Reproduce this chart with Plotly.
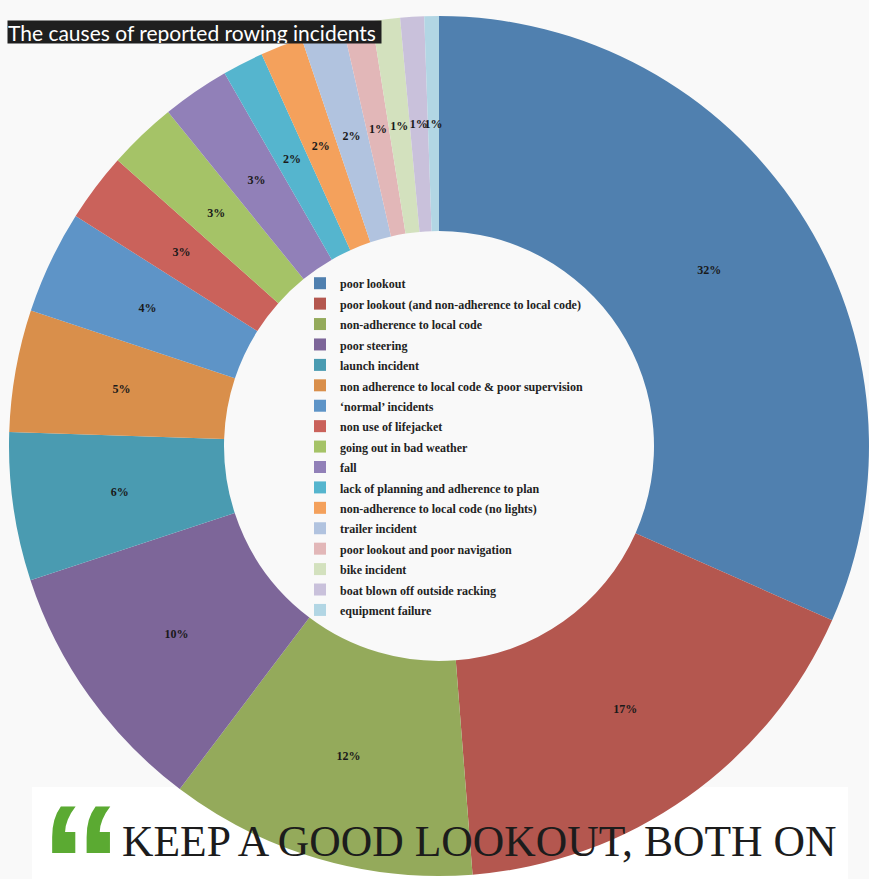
import math
import plotly.graph_objects as go

causes = [
    "poor lookout",
    "poor lookout (and non-adherence to local code)",
    "non-adherence to local code",
    "poor steering",
    "launch incident",
    "non adherence to local code & poor supervision",
    "\u2018normal\u2019 incidents",
    "non use of lifejacket",
    "going out in bad weather",
    "fall",
    "lack of planning and adherence to plan",
    "non-adherence to local code (no lights)",
    "trailer incident",
    "poor lookout and poor navigation",
    "bike incident",
    "boat blown off outside racking",
    "equipment failure",
]
shares = [31.8, 17.2, 11.6, 9.7, 5.6, 4.6, 3.9, 2.6, 2.6, 2.55,
          1.55, 1.6, 1.6, 1.1, 1.05, 0.9, 0.55]
colors = ["#5080AF", "#B4574F", "#94AA5B", "#7D6699", "#4A9BB1", "#D98F4B",
          "#5E94C7", "#CA625B", "#A5C367", "#9180B8", "#55B5CE", "#F4A15C",
          "#B1C3DF", "#E2B7B8", "#D3E1BE", "#C9C1DB", "#B2D6E4"]

title_text = "The causes of reported rowing incidents"
quote_text = "KEEP A GOOD LOOKOUT, BOTH ON"

W, H = 869, 879
cx, cy, r = 439, 446, 430       # outer ring (pixels)
hole = 0.5
r_mid = r * (1 + hole) / 2      # radius where the percentages sit
n_big = 3                       # slices whose labels already sit mid-donut
i_side = 4                      # slice spanning 9 o'clock (label needs own ring)

# thin label ring: its middle lies on r_mid
thin_hole = 0.97
r_thin = r_mid / (1 - (1 - thin_hole) / 2)
# ring for the 9 o'clock slice: inscribed-circle centre lands on r_mid
s_side = math.sin(math.pi * shares[i_side] / sum(shares))
r_side = r_mid / (1 - s_side / (1 + s_side))

legend_labels = ["<span style='font-size:12px'>%s</span>" % c for c in causes]
pct = "%{percent:.0%}"
label_font = dict(family="Liberation Serif", size=12, color="#1a1a1a", weight="bold")
clear = ["rgba(0,0,0,0)"] * len(shares)
n = len(shares)


def dom(rad):
    return dict(x=[(cx - rad) / W, (cx + rad) / W],
                y=[(H - cy - rad) / H, (H - cy + rad) / H])


common = dict(values=shares, sort=False, direction="clockwise", rotation=0,
              textposition="inside", insidetextorientation="horizontal",
              textfont=label_font)

fig = go.Figure()
fig.add_trace(go.Pie(
    labels=legend_labels, hole=hole,
    marker=dict(colors=colors, line=dict(width=0)),
    texttemplate=[pct if i < n_big else "" for i in range(n)],
    domain=dom(r), hoverinfo="percent", **common,
))
fig.add_trace(go.Pie(
    labels=causes, hole=thin_hole,
    marker=dict(colors=clear, line=dict(width=0)),
    texttemplate=[pct if (i >= n_big and i != i_side) else "" for i in range(n)],
    domain=dom(r_thin), showlegend=False, hoverinfo="skip", **common,
))
fig.add_trace(go.Pie(
    labels=["_" + c for c in causes], hole=0.5,
    marker=dict(colors=clear, line=dict(width=0)),
    texttemplate=[pct if i == i_side else "" for i in range(n)],
    domain=dom(r_side), showlegend=False, hoverinfo="skip", **common,
))

fig.update_layout(
    width=W, height=H,
    margin=dict(l=0, r=0, t=0, b=0),
    paper_bgcolor="#f9f9f9",
    uniformtext=dict(minsize=12, mode="show"),
    showlegend=True,
    legend=dict(
        x=300 / W, y=(H - 268) / H, xanchor="left", yanchor="top",
        bgcolor="rgba(0,0,0,0)",
        font=dict(family="Liberation Serif", size=13.4, color="#222222", weight="bold"),
    ),
    shapes=[dict(type="rect", xref="paper", yref="paper",
                 x0=32 / W, x1=848 / W, y0=0, y1=(H - 787) / H,
                 fillcolor="white", line=dict(width=0), layer="below")],
    annotations=[
        dict(text=title_text, xref="paper", yref="paper",
             x=7 / W, y=(H - 20) / H, xanchor="left", yanchor="top",
             width=373, height=22, align="left",
             showarrow=False, bgcolor="#1f1f1f", borderpad=0,
             font=dict(family="Lato", size=21, color="white")),
        dict(text=quote_text, xref="paper", yref="paper",
             x=120 / W, y=(H - 841) / H, xanchor="left", yanchor="middle",
             showarrow=False,
             font=dict(family="Liberation Serif", size=43.6, color="#1c1c1c")),
        dict(text="\u201c", xref="paper", yref="paper",
             x=38 / W, y=(H - 769) / H, xanchor="left", yanchor="top",
             showarrow=False,
             font=dict(family="Liberation Sans", size=165, color="#5BAA32", weight="bold")),
    ],
)

fig.write_html(
    "out.html",
    config={"displayModeBar": False},
    post_script="document.body.style.margin='0px';document.body.style.background='#f9f9f9';",
)
